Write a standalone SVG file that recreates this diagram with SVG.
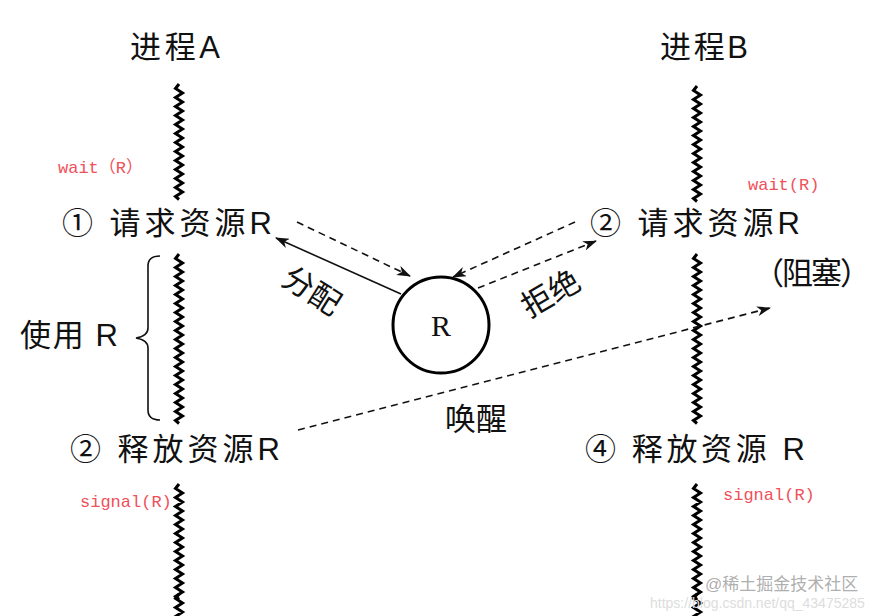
<svg xmlns="http://www.w3.org/2000/svg" width="882" height="616" viewBox="0 0 882 616">
<style>
.t{font-family:"Liberation Sans","Noto Sans CJK SC",sans-serif;fill:#111;font-size:31px}
.r{font-family:"Liberation Mono","Noto Sans CJK SC",monospace;fill:#f0505a;font-size:17px}
.z{fill:none;stroke:#000;stroke-width:3}
.a{fill:none;stroke:#111;stroke-width:1.6}
.d{stroke-dasharray:7,5}
</style>
<defs>
<marker id="ah" markerWidth="14" markerHeight="10" refX="13" refY="5" orient="auto" markerUnits="userSpaceOnUse"><path d="M0,0 L14,5 L0,10 L4,5 Z" fill="#111"/></marker>
<path id="zz" d="M0,0 l-3.5,4.5 l7,4.5 l-7,4.5 l7,4.5 l-7,4.5 l7,4.5 l-7,4.5 l7,4.5 l-7,4.5 l7,4.5 l-7,4.5 l7,4.5 l-7,4.5 l7,4.5 l-7,4.5 l7,4.5 l-7,4.5 l7,4.5 l-7,4.5 l7,4.5 l-7,4.5 l7,4.5 l-7,4.5 l7,4.5 l-7,4.5 l3.5,3"/>
<path id="zl" d="M0,0 l-3.5,4.5 l7,4.5 l-7,4.5 l7,4.5 l-7,4.5 l7,4.5 l-7,4.5 l7,4.5 l-7,4.5 l7,4.5 l-7,4.5 l7,4.5 l-7,4.5 l7,4.5 l-7,4.5 l7,4.5 l-7,4.5 l7,4.5 l-7,4.5 l7,4.5 l-7,4.5 l7,4.5 l-7,4.5 l7,4.5 l-7,4.5 l7,4.5 l-7,4.5 l7,4.5 l-7,4.5 l7,4.5 l-7,4.5 l7,4.5 l-7,4.5 l7,4.5 l-7,4.5 l7,4.5 l-7,4.5 l3.5,3"/>
</defs>
<rect width="882" height="616" fill="#fff"/>
<g id="processA">
<text class="t" x="130" y="58" textLength="90">进程A</text>
<use href="#zz" class="z" x="179" y="84"/>
<use href="#zl" class="z" x="179" y="254"/>
<use href="#zz" class="z" x="179" y="484"/>
<use href="#zz" class="z" x="179" y="594"/>
<text class="r" x="58" y="173">wait（R）</text>
<text class="t" x="62" y="234" textLength="210">①  请求资源R</text>
<text class="t" x="20" y="346" textLength="98">使用 R</text>
<path d="M160,256 q-12,0 -12,10 v62 q0,8 -12,10 q12,2 12,10 v62 q0,10 12,10" class="a" stroke-width="1.8"/>
<text class="t" x="70" y="460" textLength="210">②  释放资源R</text>
<text class="r" x="80" y="507">signal(R)</text>
</g>
<g id="processB">
<text class="t" x="660" y="58" textLength="88">进程B</text>
<use href="#zz" class="z" x="697" y="86"/>
<use href="#zl" class="z" x="697" y="254"/>
<use href="#zz" class="z" x="697" y="484"/>
<use href="#zz" class="z" x="697" y="594"/>
<text class="r" x="748" y="190">wait(R)</text>
<text class="t" x="590" y="234" textLength="210">②  请求资源R</text>
<text class="t" x="753" y="284" textLength="118">（阻塞）</text>
<text class="t" x="585" y="460" textLength="220">④  释放资源 R</text>
<text class="r" x="723" y="500">signal(R)</text>
</g>
<g id="resource">
<circle cx="441" cy="325" r="48" fill="#fff" stroke="#000" stroke-width="3"/>
<text x="441" y="336" text-anchor="middle" font-family="Liberation Serif,serif" font-size="30" fill="#111">R</text>
</g>
<g id="connectors">
<line x1="401" y1="294" x2="276" y2="238" class="a" marker-end="url(#ah)"/>
<line x1="297" y1="222" x2="410" y2="276" class="a d" marker-end="url(#ah)"/>
<line x1="575" y1="222" x2="453" y2="277" class="a d" marker-end="url(#ah)"/>
<line x1="478" y1="288" x2="596" y2="241" class="a d" marker-end="url(#ah)"/>
<line x1="298" y1="430" x2="770" y2="308" class="a d" marker-end="url(#ah)"/>
<text class="t" x="0" y="0" transform="translate(306,300) rotate(32)" text-anchor="middle">分配</text>
<text class="t" x="0" y="0" transform="translate(556,303) rotate(-30)" text-anchor="middle">拒绝</text>
<text class="t" x="445" y="430">唤醒</text>
</g>
<g id="watermark">
<text x="705" y="590" font-family="Liberation Sans,Noto Sans CJK SC,sans-serif" font-size="17" fill="#999" fill-opacity="0.8">@稀土掘金技术社区</text>
<text x="650" y="608" font-family="Liberation Sans,sans-serif" font-size="14" fill="#ddd">https://blog.csdn.net/qq_43475285</text>
</g>
</svg>
